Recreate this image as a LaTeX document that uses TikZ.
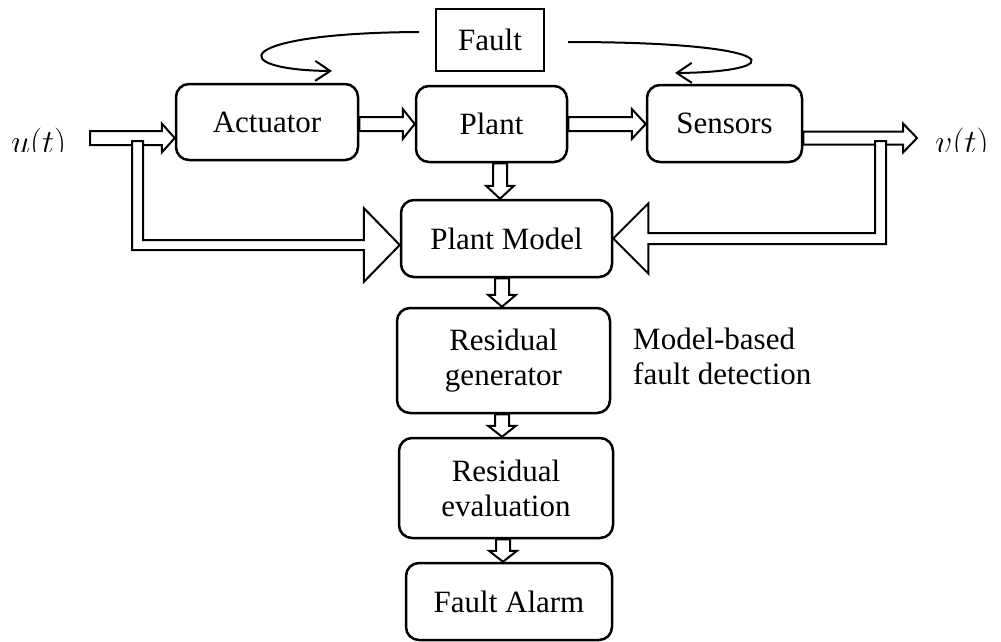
\RequirePackage{fix-cm}
\documentclass[tikz,border=0pt]{standalone}
\usepackage{fontspec}
\setmainfont{Liberation Serif}
\usetikzlibrary{arrows.meta,calc}

% hollow block arrow pointing right: from #1 to the x of #2, at the height of #1
% #3 shaft half-width, #4 head half-width, #5 head length
\newcommand\hblk[5]{%
  \draw[blk] let \p1=(#1), \p2=(#2) in
    (\x1,\y1+#3) -- (\x2-#5,\y1+#3) -- (\x2-#5,\y1+#4) -- (\x2,\y1)
    -- (\x2-#5,\y1-#4) -- (\x2-#5,\y1-#3) -- (\x1,\y1-#3) -- cycle;}
% hollow block arrow pointing down: from #1 to the y of #2, at the x of #1
\newcommand\vblk[5]{%
  \draw[blk] let \p1=(#1), \p2=(#2) in
    (\x1-#3,\y1) -- (\x1-#3,\y2+#5) -- (\x1-#4,\y2+#5) -- (\x1,\y2)
    -- (\x1+#4,\y2+#5) -- (\x1+#3,\y2+#5) -- (\x1+#3,\y1) -- cycle;}

\begin{document}
\begin{tikzpicture}[x=1pt,y=-1pt,
  font=\fontsize{31}{35}\selectfont,
  box/.style={draw, line width=2.5pt, rounded corners=13pt, fill=white,
    inner sep=0pt, align=center},
  blk/.style={draw, line width=2pt, fill=white, line join=miter},
  siglabel/.style={anchor=base west, inner sep=0pt,
    font=\fontsize{34}{38}\selectfont},
  faultarrow/.style={line width=2pt,
    -{Straight Barb[length=15pt,width=20pt,line width=2pt]}}]
\useasboundingbox (0,0) rectangle (1001,641);

% blocks
\node[box, minimum width=182pt, minimum height=76pt] (act)   at (267,122)   {Actuator};
\node[box, minimum width=151pt, minimum height=76pt] (plant) at (491.5,124) {Plant};
\node[box, minimum width=155pt, minimum height=77pt] (sens)  at (724.5,123.5) {Sensors};
\node[box, minimum width=211pt, minimum height=77pt] (model) at (506.5,238.5) {Plant Model};
\node[box, minimum width=213pt, minimum height=105pt] (resgen) at (503.5,360.5) {Residual\\generator};
\node[box, minimum width=214pt, minimum height=100pt] (reseval) at (506,488) {Residual\\evaluation};
\node[box, minimum width=206pt, minimum height=77pt] (alarm) at (509,601.5) {Fault Alarm};
\node[draw, line width=2pt, fill=white, inner sep=0pt,
      minimum width=108pt, minimum height=62pt] (fault) at (490,40) {Fault};

\node[anchor=north west, align=left, inner sep=0pt] (note) at (633,328)
  {Model-based\\fault detection};

% input and output signals (labels cut off along the bottom)
\begin{scope}
  \clip (0,0) rectangle (1001,151);
  \node[siglabel] (ulab) at (11,153.5) {$u(t)$};
  \node[siglabel] (vlab) at (935,153.5) {$v(t)$};
\end{scope}
\coordinate (uin) at (90,138);
\coordinate (vout) at (917,138);

% forward signal path
\hblk{uin}{act.west}{7pt}{14.5pt}{13pt}
\hblk{act.east |- 0,124}{plant.west}{7pt}{15pt}{12pt}
\hblk{plant.east |- 0,124}{sens.west}{7pt}{15pt}{14pt}
\hblk{sens.east |- vout}{vout}{6.5pt}{14.5pt}{14pt}

% detection chain
\vblk{plant.south -| 500,0}{model.north}{7pt}{14pt}{13pt}
\vblk{model.south -| 502,0}{resgen.north}{7pt}{14pt}{12pt}
\vblk{resgen.south -| 502,0}{reseval.north}{7pt}{14pt}{11pt}
\vblk{reseval.south -| 503,0}{alarm.north}{7pt}{14pt}{11pt}

% input tapped into the model
\coordinate (tapL) at (137.5,141);
\coordinate (bendL) at (137.5,245);
\draw[blk] let \p1=(tapL), \p2=(bendL), \p3=(model.west) in
  (\x1-5.5pt,\y1) -- (\x1+5.5pt,\y1) -- (\x1+5.5pt,\y2+5pt)
  -- (\x3-36pt,\y2+5pt) -- (\x3-36pt,\y2+37pt) -- (\x3,\y2)
  -- (\x3-36pt,\y2-37pt) -- (\x3-36pt,\y2-5pt) -- (\x1-5.5pt,\y2-5pt) -- cycle;

% measured output fed back into the model
\coordinate (tapR) at (880.5,141);
\coordinate (bendR) at (880.5,238.5);
\draw[blk] let \p1=(tapR), \p2=(bendR), \p3=(model.east) in
  (\x1+5.5pt,\y1) -- (\x1-5.5pt,\y1) -- (\x1-5.5pt,\y2+5.5pt)
  -- (\x3+35pt,\y2+5.5pt) -- (\x3+35pt,\y2+35pt) -- (\x3,\y2)
  -- (\x3+35pt,\y2-35pt) -- (\x3+35pt,\y2-5.5pt) -- (\x1+5.5pt,\y2-5.5pt) -- cycle;

% fault injection
\coordinate (fA) at (419,32);
\coordinate (fAt) at (332,71);
\coordinate (fS) at (568,42);
\coordinate (fSt) at (675,73);
\draw[faultarrow] (fA) .. controls (230,33) and (225,70) .. (fAt);
\draw[faultarrow] (fS) .. controls (790,42) and (790,72) .. (fSt);
\end{tikzpicture}
\end{document}
